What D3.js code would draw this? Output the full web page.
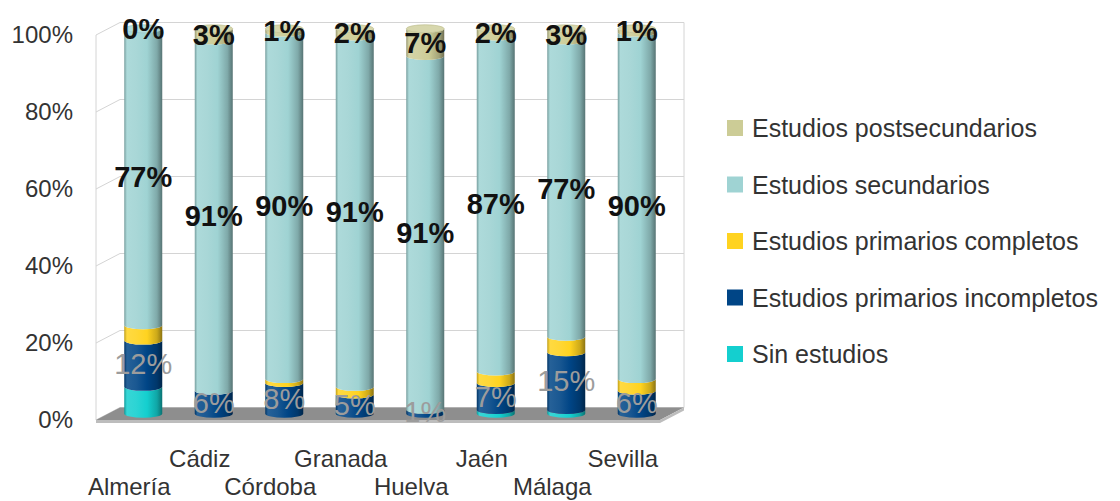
<!DOCTYPE html>
<html>
<head>
<meta charset="utf-8">
<script src="https://cdn.jsdelivr.net/npm/d3@7"></script>
<style>
  html, body { margin: 0; padding: 0; background: #fff; }
  svg { display: block; }
  text { font-family: "Liberation Sans", Arial, sans-serif; }
</style>
</head>
<body>
<svg id="chart" width="1120" height="501"></svg>
<script>
// Nivel de estudios por provincia (porcentaje)
const categories = ["Almería", "Cádiz", "Córdoba", "Granada", "Huelva", "Jaén", "Málaga", "Sevilla"];
const sinEstudios          = [7, 0, 0, 0, 0, 1, 1, 0];
const primariosIncompletos = [12, 6, 8, 5, 1, 7, 15, 6];
const primariosCompletos   = [4, 0, 1, 2, 0, 3, 4, 3];
const secundarios          = [77, 91, 90, 91, 91, 87, 77, 90];
const postsecundarios      = [0, 3, 1, 2, 7, 2, 3, 1];
const yTicks = [0, 0.2, 0.4, 0.6, 0.8, 1];

const series = [
  { key: "sin",  name: "Sin estudios",                values: sinEstudios,          color: "#14cfcf", label: null },
  { key: "inc",  name: "Estudios primarios incompletos", values: primariosIncompletos, color: "#004586", label: "gray" },
  { key: "comp", name: "Estudios primarios completos",   values: primariosCompletos,   color: "#ffd320", label: null },
  { key: "sec",  name: "Estudios secundarios",           values: secundarios,          color: "#9fd3d3", label: "black" },
  { key: "post", name: "Estudios postsecundarios",       values: postsecundarios,      color: "#cccc96", label: "black" }
];

const svg = d3.select("#chart");

// 3D box: front plane and depth offset of the back wall
const x0 = 96, x1 = 660;
const depthX = 24, depthY = -12.5;
const yFront = d3.scaleLinear([0, 1], [420, 35]);
const x = d3.scaleBand(categories, [x0, x1]);
const yBar = v => yFront(v) + depthY / 2;
const barCx = c => x(c) + x.bandwidth() / 2 + depthX / 2;
const rx = 19, ry = 4;

// stacked, normalised to 100 %
const rows = categories.map((c, i) => {
  const r = { cat: c };
  series.forEach(s => r[s.key] = s.values[i]);
  return r;
});
const stack = d3.stack().keys(series.map(s => s.key)).offset(d3.stackOffsetExpand);
const stacked = stack(rows);

// gradients for cylinder shading
const defs = svg.append("defs");
const mix = (a, b, t) => d3.interpolateRgb(a, b)(t);
series.forEach(s => {
  const g = defs.append("linearGradient").attr("id", "grad-" + s.key)
    .attr("x1", "0").attr("x2", "1").attr("y1", "0").attr("y2", "0");
  [[0, mix(s.color, "#000", 0.25)], [0.07, mix(s.color, "#fff", 0.15)],
   [0.32, mix(s.color, "#fff", 0.1)], [0.6, s.color],
   [0.86, mix(s.color, "#000", 0.2)], [1, mix(s.color, "#000", 0.45)]]
    .forEach(([o, c]) => g.append("stop").attr("offset", o).attr("stop-color", c));
});

// walls and grid
const grid = svg.append("g").attr("stroke", "#d4d4d4").attr("stroke-width", 1).attr("fill", "none");
grid.append("line").attr("x1", x0).attr("x2", x0).attr("y1", yFront(1)).attr("y2", yFront(0));
grid.append("line").attr("x1", x1 + depthX).attr("x2", x1 + depthX)
  .attr("y1", yFront(1) + depthY).attr("y2", yFront(0) + depthY);
yTicks.forEach(t => {
  grid.append("path").attr("d",
    `M${x0},${yFront(t)} L${x0 + depthX},${yFront(t) + depthY} L${x1 + depthX},${yFront(t) + depthY}`);
});

// floor
const floorG = svg.append("g");
floorG.append("path")
  .attr("d", `M${x0},${yFront(0)} L${x0 + depthX},${yFront(0) + depthY} L${x1 + depthX},${yFront(0) + depthY} L${x1},${yFront(0)} Z`)
  .attr("fill", "#8e8e8e");
floorG.append("path")
  .attr("d", `M${x0},${yFront(0)} L${x1},${yFront(0)} L${x1 + depthX},${yFront(0) + depthY} L${x1 + depthX},${yFront(0) + depthY + 3} L${x1},${yFront(0) + 3} L${x0},${yFront(0) + 3} Z`)
  .attr("fill", "#bdbdbd");

// cylinders
const segPath = (cx, yb, yt) =>
  `M${cx - rx},${yt} A${rx},${ry} 0 0 0 ${cx + rx},${yt} L${cx + rx},${yb} A${rx},${ry} 0 0 1 ${cx - rx},${yb} Z`;

const bars = svg.append("g");
stacked.forEach((layer, si) => {
  bars.append("g").selectAll("path").data(layer).join("path")
    .attr("d", d => {
      const cx = barCx(d.data.cat);
      return segPath(cx, yBar(d[0]), yBar(d[1]));
    })
    .attr("fill", `url(#grad-${series[si].key})`);
});
// top caps
categories.forEach((c, i) => {
  let top = 0;
  series.forEach((s, si) => { if (s.values[i] > 0) top = si; });
  const base = series[top].color;
  bars.append("ellipse")
    .attr("cx", barCx(c)).attr("cy", yBar(1))
    .attr("rx", rx).attr("ry", ry)
    .attr("fill", mix(base, "#fff", 0.22))
    .attr("stroke", mix(base, "#000", 0.1)).attr("stroke-width", 0.6);
});

// data labels
const labels = svg.append("g").attr("text-anchor", "middle");
stacked.forEach((layer, si) => {
  const s = series[si];
  if (!s.label) return;
  labels.append("g").selectAll("text").data(layer).join("text")
    .attr("x", d => barCx(d.data.cat))
    .attr("y", d => yBar((d[0] + d[1]) / 2))
    .attr("dy", "0.36em")
    .attr("font-size", s.label === "black" ? 29 : 29)
    .attr("font-weight", s.label === "black" ? "bold" : "normal")
    .attr("fill", s.label === "black" ? "#111" : "#9c9c9c")
    .text(d => d.data[s.key] + "%");
});

// value axis
const yAxis = svg.append("g").attr("transform", `translate(${x0},0)`)
  .call(d3.axisLeft(yFront).tickValues(yTicks).tickFormat(d3.format(".0%")).tickSize(0).tickPadding(23));
yAxis.select(".domain").remove();
yAxis.selectAll("text").attr("font-size", 24).attr("fill", "#333").attr("font-family", "Liberation Sans, Arial, sans-serif");

// category axis (staggered)
const xAxis = svg.append("g").attr("transform", `translate(-2,${yFront(0)})`)
  .call(d3.axisBottom(x).tickSize(0));
xAxis.select(".domain").remove();
xAxis.selectAll("text")
  .attr("y", (d, i) => i % 2 ? 47 : 75).attr("dy", "0")
  .attr("font-size", 24).attr("fill", "#333").attr("font-family", "Liberation Sans, Arial, sans-serif");

// legend
const legendOrder = series.slice().reverse();
const legend = svg.append("g");
legendOrder.forEach((s, i) => {
  const cy = 128 + i * 56.5;
  legend.append("rect").attr("x", 727).attr("y", cy - 8).attr("width", 16).attr("height", 16).attr("fill", s.color);
  legend.append("text").attr("x", 752).attr("y", cy).attr("dy", "0.36em")
    .attr("font-size", 25).attr("fill", "#333").text(s.name);
});
</script>
</body>
</html>
